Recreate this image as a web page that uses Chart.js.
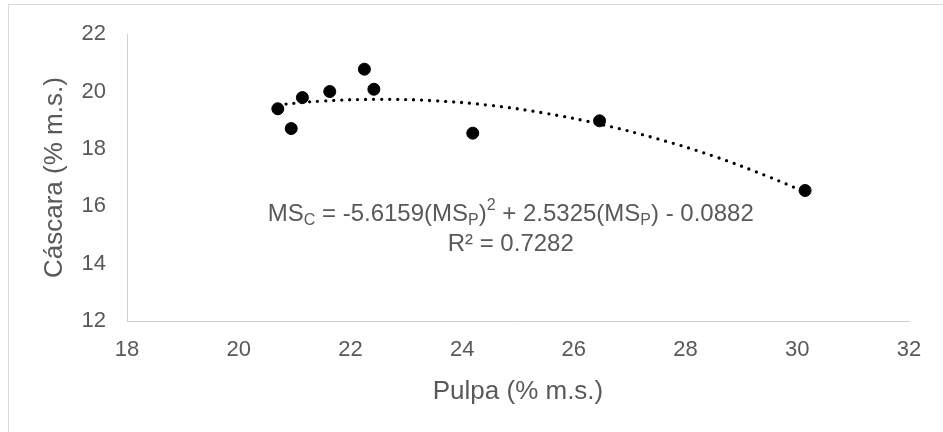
<!DOCTYPE html>
<html>
<head>
<meta charset="utf-8">
<script src="https://cdn.jsdelivr.net/npm/chart.js@4.4.1/dist/chart.umd.min.js"></script>
<style>
  body { margin: 0; background: #fff; }
  #frame { position: absolute; left: 8px; top: 4px; width: 960px; height: 460px; border: 1px solid #d9d9d9; }
  #wrap { position: absolute; left: 0; top: 0; width: 943px; height: 432px; }
</style>
</head>
<body>
<div id="frame"></div>
<div id="wrap"><canvas id="chart"></canvas></div>
<script>
// measured points
const pulpa   = [20.70, 20.94, 21.14, 21.63, 22.25, 22.42, 24.19, 26.46, 30.14];
const cascara = [19.40, 18.71, 19.79, 20.00, 20.78, 20.08, 18.55, 18.98, 16.55];

// dotted polynomial trend line
const trendX = [20.7, 21.5, 22.5, 23.5, 24.5, 25.5, 26.5, 27.5, 28.5, 29.5, 30.1];
const trendY = [19.54, 19.67, 19.73, 19.68, 19.52, 19.24, 18.85, 18.35, 17.75, 17.02, 16.53];

const xTicks = [18, 20, 22, 24, 26, 28, 30, 32];
const yTicks = [12, 14, 16, 18, 20, 22];

const xTitle = 'Pulpa (% m.s.)';
const yTitle = 'Cáscara (% m.s.)';

// equation pieces: 0 normal, 1 subscript, 2 superscript
const eqParts = [
  ['MS', 0], ['C', 1], [' = -5.6159(MS', 0], ['P', 1], [')', 0], ['2', 2],
  [' + 2.5325(MS', 0], ['P', 1], [') - 0.0882', 0]
];
const r2Text = 'R² = 0.7282';

const grey = '#595959';
const fontName = '"Liberation Sans", Arial, sans-serif';

const equationLabel = {
  id: 'equationLabel',
  afterDatasetsDraw(chart) {
    const { ctx, scales: { x, y } } = chart;
    const cx = x.getPixelForValue(24.87);
    const cy = y.getPixelForValue(15.72);
    ctx.save();
    ctx.fillStyle = grey;
    ctx.textBaseline = 'middle';
    ctx.textAlign = 'left';
    const big = '24px ' + fontName, small = '16px ' + fontName;
    let total = 0;
    eqParts.forEach(p => {
      ctx.font = p[1] ? small : big;
      total += ctx.measureText(p[0]).width;
    });
    let px = cx - total / 2;
    eqParts.forEach(p => {
      ctx.font = p[1] ? small : big;
      let dy = 0;
      if (p[1] === 1) dy = 6;
      if (p[1] === 2) dy = -9;
      ctx.fillText(p[0], px, cy + dy);
      px += ctx.measureText(p[0]).width;
    });
    ctx.font = big;
    ctx.textAlign = 'center';
    ctx.fillText(r2Text, cx, cy + 30);
    ctx.restore();
  }
};

new Chart(document.getElementById('chart'), {
  type: 'scatter',
  data: {
    datasets: [
      {
        label: 'Tendencia',
        data: trendX.map((v, i) => ({ x: v, y: trendY[i] })),
        showLine: true,
        borderColor: '#000',
        borderWidth: 3.3,
        borderDash: [0, 8],
        borderCapStyle: 'round',
        tension: 0.4,
        pointRadius: 0,
        order: 2
      },
      {
        label: 'Datos',
        data: pulpa.map((v, i) => ({ x: v, y: cascara[i] })),
        backgroundColor: '#000',
        borderColor: '#000',
        pointRadius: 6,
        pointHoverRadius: 6,
        order: 1
      }
    ]
  },
  options: {
    responsive: true,
    maintainAspectRatio: false,
    animation: false,
    devicePixelRatio: 1,
    layout: { padding: { left: 0, top: 33, right: 34, bottom: 0 } },
    plugins: { legend: { display: false }, tooltip: { enabled: false } },
    scales: {
      x: {
        type: 'linear',
        min: 18, max: 32,
        afterBuildTicks: s => { s.ticks = xTicks.map(v => ({ value: v })); },
        afterFit: s => { s.height = 111; },
        grid: { display: false, drawTicks: false },
        border: { display: true, color: '#d0d0d0', width: 1 },
        ticks: { color: grey, font: { size: 22, family: fontName }, padding: 16 },
        title: { display: true, text: xTitle, color: grey, font: { size: 26, family: fontName }, padding: { top: 0, bottom: 25 } }
      },
      y: {
        type: 'linear',
        min: 12, max: 22,
        afterBuildTicks: s => { s.ticks = yTicks.map(v => ({ value: v })); },
        afterFit: s => { s.width = 127; },
        grid: { display: false, drawTicks: false },
        border: { display: true, color: '#d0d0d0', width: 1 },
        ticks: { color: grey, font: { size: 22, family: fontName }, padding: 21 },
        title: { display: true, text: yTitle, color: grey, font: { size: 26, family: fontName }, padding: { top: 39, bottom: 0 } }
      }
    }
  },
  plugins: [equationLabel]
});
</script>
</body>
</html>
